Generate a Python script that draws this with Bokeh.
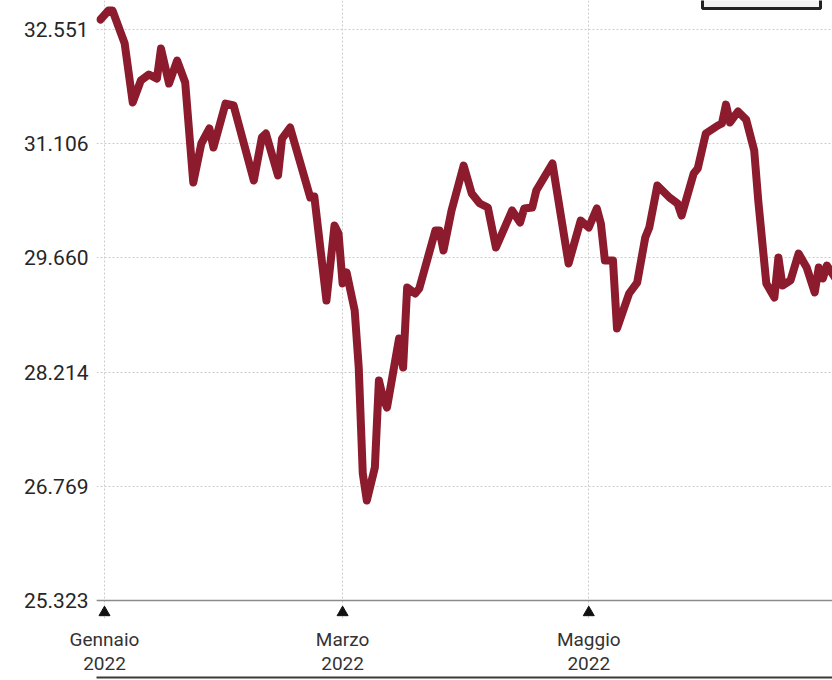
import pandas as pd
from bokeh.plotting import figure
from bokeh.models import (ColumnDataSource, FixedTicker, LinearAxis, Range1d, Span, BoxAnnotation)
from bokeh.embed import file_html
from bokeh.resources import INLINE

# ---- data ----
dates = [
    "2021-12-31", "2022-01-02", "2022-01-03", "2022-01-06", "2022-01-08", "2022-01-10",
    "2022-01-12", "2022-01-14", "2022-01-15", "2022-01-17", "2022-01-19", "2022-01-21",
    "2022-01-23", "2022-01-25", "2022-01-27", "2022-01-28", "2022-01-31", "2022-02-02",
    "2022-02-07", "2022-02-09", "2022-02-10", "2022-02-13", "2022-02-14", "2022-02-16",
    "2022-02-21", "2022-02-22", "2022-02-25", "2022-02-27", "2022-02-28", "2022-03-01",
    "2022-03-02", "2022-03-04", "2022-03-05", "2022-03-06", "2022-03-07", "2022-03-09",
    "2022-03-10", "2022-03-11", "2022-03-12", "2022-03-15", "2022-03-16", "2022-03-17",
    "2022-03-19", "2022-03-20", "2022-03-24", "2022-03-25", "2022-03-26", "2022-03-28",
    "2022-03-31", "2022-04-02", "2022-04-04", "2022-04-06", "2022-04-08", "2022-04-12",
    "2022-04-14", "2022-04-15", "2022-04-17", "2022-04-18", "2022-04-22", "2022-04-24",
    "2022-04-26", "2022-04-29", "2022-05-01", "2022-05-03", "2022-05-04", "2022-05-05",
    "2022-05-07", "2022-05-08", "2022-05-11", "2022-05-13", "2022-05-15", "2022-05-16",
    "2022-05-18", "2022-05-21", "2022-05-23", "2022-05-24", "2022-05-27", "2022-05-28",
    "2022-05-30", "2022-06-02", "2022-06-03", "2022-06-04", "2022-06-05", "2022-06-07",
    "2022-06-09", "2022-06-11", "2022-06-12", "2022-06-14", "2022-06-16", "2022-06-17",
    "2022-06-18", "2022-06-20", "2022-06-22", "2022-06-24", "2022-06-26", "2022-06-27",
    "2022-06-28", "2022-06-29", "2022-07-01",
]
values = [
    32677, 32791, 32791, 32374, 31627, 31905,
    31981, 31930, 32310, 31867, 32158, 31880,
    30614, 31108, 31298, 31057, 31614, 31589,
    30639, 31184, 31234, 30703, 31171, 31310,
    30424, 30437, 29120, 30070, 29968, 29336,
    29475, 28994, 28272, 26931, 26589, 27007,
    28108, 27893, 27766, 28639, 28272, 29285,
    29209, 29272, 30006, 30006, 29753, 30260,
    30829, 30475, 30348, 30298, 29791, 30260,
    30108, 30285, 30298, 30513, 30855, 30222,
    29589, 30133, 30044, 30285, 30095, 29627,
    29627, 28766, 29209, 29348, 29918, 30044,
    30576, 30424, 30348, 30196, 30728, 30791,
    31234, 31336, 31361, 31601, 31374, 31513,
    31411, 31019, 30386, 29336, 29158, 29665,
    29310, 29374, 29715, 29538, 29222, 29538,
    29399, 29563, 29412,
]

y_ticks = [25323, 26769, 28214, 29660, 31106, 32551]
y_tick_labels = ["25.323", "26.769", "28.214", "29.660", "31.106", "32.551"]

x_tick_dates = ["2022-01-01", "2022-03-01", "2022-05-01"]
x_tick_labels = ["Gennaio\n2022", "Marzo\n2022", "Maggio\n2022"]

# ---- build ----
origin = pd.Timestamp("2022-01-01")
x_days = [(pd.Timestamp(d) - origin).days for d in dates]
x_tick_pos = [(pd.Timestamp(d) - origin).days for d in x_tick_dates]

src = ColumnDataSource(data=dict(x=x_days, y=values))

p = figure(width=832, height=680, output_backend="svg", toolbar_location=None,
           x_range=Range1d(-1.98, 180.4), y_range=Range1d(25095, 32918),
           min_border_left=96, min_border_right=0, min_border_top=0,
           min_border_bottom=62)
p.outline_line_color = None
p.background_fill_color = "white"
p.border_fill_color = "white"

# grid
p.xgrid.ticker = FixedTicker(ticks=x_tick_pos)
p.ygrid.ticker = FixedTicker(ticks=y_ticks)
for g in (p.xgrid, p.ygrid):
    g.grid_line_color = "#cccccc"
    g.grid_line_dash = "2 2"
    g.grid_line_width = 1

base = Span(location=y_ticks[0], dimension="width", line_color="#8a8a8a", line_width=1.5)
p.add_layout(base)

# y axis
ya = p.yaxis[0]
ya.ticker = FixedTicker(ticks=y_ticks)
ya.major_label_overrides = dict(zip(y_ticks, y_tick_labels))
ya.axis_line_color = None
ya.major_tick_line_color = None
ya.minor_tick_line_color = None
ya.major_label_standoff = 2
ya.major_label_text_font = "Roboto"
ya.major_label_text_font_size = "21px"
ya.major_label_text_color = "#262626"

# x axis
xa = p.xaxis[0]
xa.ticker = FixedTicker(ticks=x_tick_pos)
xa.major_label_overrides = dict(zip(x_tick_pos, x_tick_labels))
xa.axis_line_color = None
xa.major_tick_line_color = None
xa.minor_tick_line_color = None
xa.major_label_standoff = 3
xa.major_label_text_font = "Roboto"
xa.major_label_text_font_size = "19px"
xa.major_label_text_color = "#333333"
xa.major_label_text_line_height = 1.06

# bottom rule
rule = LinearAxis(ticker=FixedTicker(ticks=[]), major_label_text_font_size="0px",
                  axis_line_color="#3a3a3a", axis_line_width=2,
                  major_tick_line_color=None, minor_tick_line_color=None)
p.add_layout(rule, "below")

# small framed box cut by the top edge (top right)
box = BoxAnnotation(left=702, right=820, top=-4, bottom=8,
                    left_units="canvas", right_units="canvas",
                    top_units="canvas", bottom_units="canvas",
                    fill_color="#f2f2f2", fill_alpha=1.0,
                    line_color="#222222", line_alpha=1.0, line_width=3)
p.add_layout(box)

# triangles under the axis at each tick
p.extra_y_ranges = {"deco": Range1d(0, 618)}
p.scatter(x=x_tick_pos, y=[6] * len(x_tick_pos), y_range_name="deco",
          marker="triangle", size=11, color="#111111")

# line
p.line("x", "y", source=src, line_color="#8c1b2e", line_width=8,
       line_join="round", line_cap="round")

open("out.html", "w").write(file_html(p, INLINE))
